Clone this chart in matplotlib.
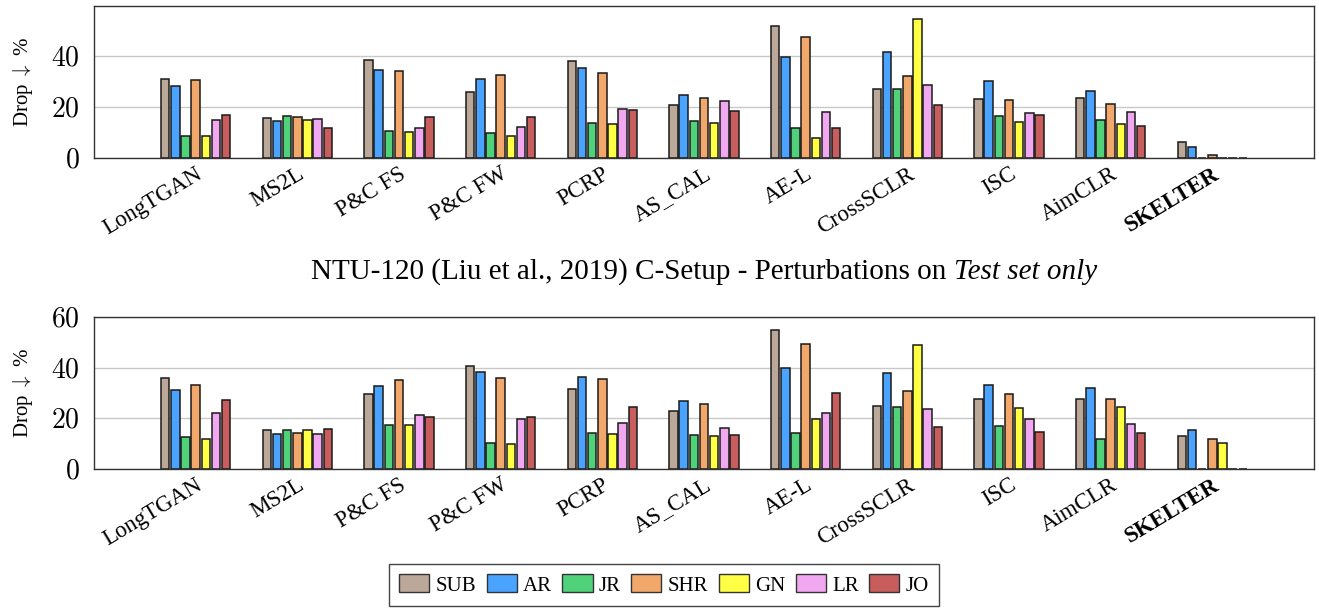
import matplotlib
matplotlib.use("Agg")
import matplotlib.pyplot as plt
import numpy as np
from matplotlib.patches import Patch

plt.rcParams['font.family'] = ['Liberation Serif', 'DejaVu Serif']
plt.rcParams['mathtext.fontset'] = 'cm'

methods = ["LongTGAN", "MS2L", "P&C FS", "P&C FW", "PCRP", "AS_CAL", "AE-L",
           "CrossSCLR", "ISC", "AimCLR", "SKELTER"]
series_names = ["SUB", "AR", "JR", "SHR", "GN", "LR", "JO"]
colors = ["#bba899", "#4aa3ff", "#4fd27a", "#f2a86b", "#ffff44", "#f2a8f0", "#c85d5d"]

# Top chart (no title shown above it)
top_SUB = [30.8, 15.8, 38.4, 25.9, 38.0, 20.9, 51.6, 27.2, 23.2, 23.4, 6.3]
top_AR  = [28.3, 14.3, 34.5, 30.9, 35.3, 24.6, 39.7, 41.6, 30.0, 26.3, 4.2]
top_JR  = [8.8, 16.6, 10.4, 9.7, 13.8, 14.3, 11.7, 27.1, 16.3, 15.0, 0.0]
top_SHR = [30.5, 15.9, 34.1, 32.6, 33.3, 23.6, 47.4, 32.1, 22.8, 21.3, 1.2]
top_GN  = [8.8, 14.7, 10.1, 8.7, 13.4, 13.8, 7.8, 54.5, 14.2, 13.3, 0.0]
top_LR  = [14.7, 15.3, 11.7, 12.0, 19.2, 22.5, 18.0, 28.7, 17.6, 18.0, 0.0]
top_JO  = [16.7, 11.6, 15.9, 16.1, 18.8, 18.4, 11.8, 20.8, 16.8, 12.4, 0.0]

# Bottom chart: NTU-120 C-Setup - Perturbations on Test set only
bot_SUB = [35.8, 15.5, 29.7, 40.8, 31.6, 22.8, 54.7, 25.0, 27.5, 27.8, 13.2]
bot_AR  = [31.1, 13.8, 32.6, 38.2, 36.4, 26.7, 39.7, 37.8, 33.0, 31.8, 15.5]
bot_JR  = [12.5, 15.4, 17.2, 10.4, 14.3, 13.6, 14.3, 24.6, 17.1, 11.7, 0.0]
bot_SHR = [33.3, 14.3, 35.0, 35.9, 35.4, 25.7, 49.5, 30.7, 29.5, 27.6, 12.0]
bot_GN  = [11.7, 15.4, 17.2, 9.9, 13.9, 13.0, 19.7, 48.8, 23.9, 24.6, 10.4]
bot_LR  = [22.2, 13.9, 21.4, 19.9, 18.0, 16.3, 22.1, 23.7, 19.9, 17.9, 0.0]
bot_JO  = [27.1, 15.7, 20.4, 20.7, 24.3, 13.4, 29.9, 16.6, 14.7, 14.3, 0.0]

top_data = [top_SUB, top_AR, top_JR, top_SHR, top_GN, top_LR, top_JO]
bot_data = [bot_SUB, bot_AR, bot_JR, bot_SHR, bot_GN, bot_LR, bot_JO]

title_main = "NTU-120 (Liu et al., 2019) C-Setup - Perturbations on "
title_it = "Test set only"

W, H = 1319, 610
fig = plt.figure(figsize=(W / 100, H / 100), dpi=100)

def px_axes(left, top, right, bottom):
    return fig.add_axes([left / W, 1 - bottom / H, (right - left) / W, (bottom - top) / H])

ax1 = px_axes(94, 6, 1314, 158)
ax2 = px_axes(94, 317, 1314, 469)

x = np.arange(len(methods))
step = 0.1
bw = 0.082

def draw(ax, data, ymax, yticks):
    for k, (vals, c) in enumerate(zip(data, colors)):
        pos = x + (k - 3) * step
        ax.bar(pos, vals, width=bw, color=c, edgecolor="#1a1a1a", linewidth=1.1, zorder=3)
    ax.set_xlim(-1, 11)
    ax.set_ylim(0, ymax)
    ax.set_yticks(yticks)
    ax.set_yticklabels([f"${t}$" for t in yticks], fontsize=20)
    ax.yaxis.grid(True, color="#c8c8c8", linewidth=1.0, zorder=0)
    ax.set_axisbelow(True)
    ax.set_xticks(x)
    labels = ax.set_xticklabels(methods, rotation=31, ha="right", rotation_mode="anchor",
                                fontsize=16.5)
    labels[-1].set_fontweight("bold")
    ax.tick_params(axis="y", length=0, pad=10)
    ax.tick_params(axis="x", length=0, pad=4)
    for s in ax.spines.values():
        s.set_color("#333333")
        s.set_linewidth(1.0)
    ax.set_ylabel(r"Drop $\downarrow$ %", fontsize=15, labelpad=12)

draw(ax1, top_data, 59.5, [0, 20, 40])
draw(ax2, bot_data, 60, [0, 20, 40, 60])

ty = 1 - 272 / H
tm = fig.text(0, ty, title_main, ha="left", va="center", fontsize=21)
ti = fig.text(0, ty, title_it, ha="left", va="center", fontsize=21, style="italic")
fig.canvas.draw()
r = fig.canvas.get_renderer()
w1 = tm.get_window_extent(r).width
w2 = ti.get_window_extent(r).width
center = (94 + 1314) / 2
x0 = center - (w1 + w2) / 2
tm.set_x(x0 / W)
ti.set_x((x0 + w1) / W)

handles = [Patch(facecolor=c, edgecolor="#333333", linewidth=1.0) for c in colors]
leg = fig.legend(handles, series_names, loc="center", bbox_to_anchor=(664 / W, 1 - 585 / H),
                 ncol=7, fontsize=15, frameon=True, fancybox=False, framealpha=1,
                 edgecolor="#444444", handlelength=1.45, handleheight=0.95,
                 handletextpad=0.3, columnspacing=0.5, borderpad=0.5)
leg.get_frame().set_linewidth(1.0)

fig.savefig("out.png", dpi=100)
